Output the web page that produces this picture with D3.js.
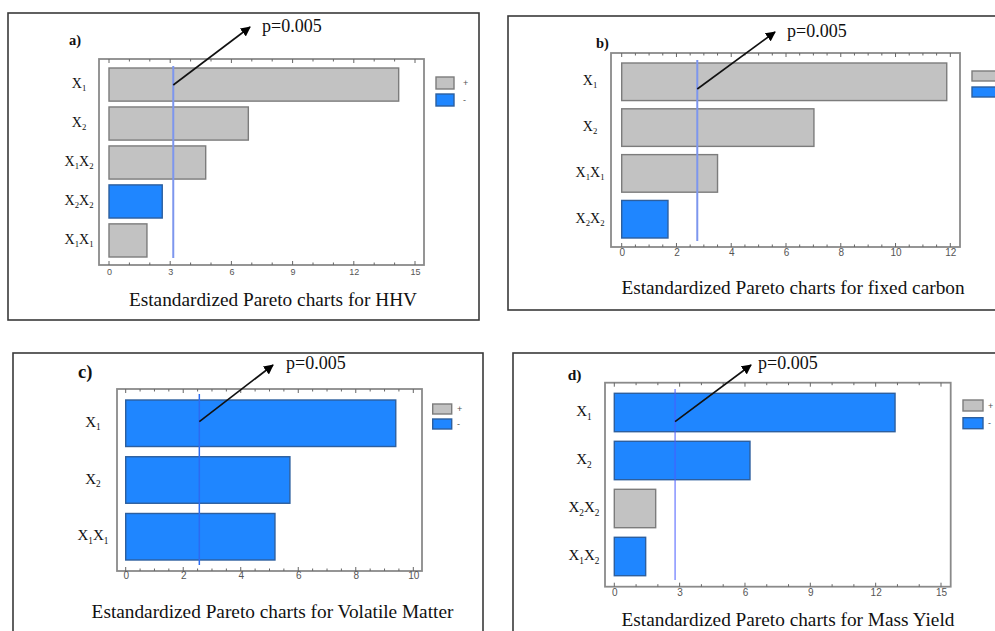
<!DOCTYPE html>
<html>
<head>
<meta charset="utf-8">
<script src="https://cdn.jsdelivr.net/npm/d3@7"></script>
<style>
  html, body { margin: 0; padding: 0; background: #fff; overflow: hidden; }
  svg { display: block; }
</style>
</head>
<body>
<svg id="chart" width="995" height="631"></svg>
<script>
// ---- Data: standardized effects per response (ordered as plotted, top to bottom) ----
const termsA   = ["X1", "X2", "X1X2", "X2X2", "X1X1"];
const effectsA = [14.2, 6.83, 4.74, 2.61, 1.86];
const signsA   = ["+", "+", "+", "-", "+"];
const critA    = 3.15;
const ticksA   = [0, 3, 6, 9, 12, 15];

const termsB   = ["X1", "X2", "X1X1", "X2X2"];
const effectsB = [11.87, 7.02, 3.50, 1.69];
const signsB   = ["+", "+", "+", "-"];
const critB    = 2.76;
const ticksB   = [0, 2, 4, 6, 8, 10, 12];

const termsC   = ["X1", "X2", "X1X1"];
const effectsC = [9.39, 5.71, 5.19];
const signsC   = ["-", "-", "-"];
const critC    = 2.56;
const ticksC   = [0, 2, 4, 6, 8, 10];

const termsD   = ["X1", "X2", "X2X2", "X1X2"];
const effectsD = [12.89, 6.23, 1.90, 1.44];
const signsD   = ["-", "-", "+", "-"];
const critD    = 2.79;
const ticksD   = [0, 3, 6, 9, 12, 15];

const panelTags   = ["a)", "b)", "c)", "d)"];
const panelTitles = [
  "Estandardized Pareto charts for HHV",
  "Estandardized Pareto charts for fixed carbon",
  "Estandardized Pareto charts for Volatile Matter",
  "Estandardized Pareto charts for Mass Yield"
];
const pLabel = "p=0.005";
const legendSigns = ["+", "-"];

// ---- Styling ----
const GRAY = "#c2c2c2", GRAY_EDGE = "#7c7c7c";
const BLUE = "#1f86ff", BLUE_EDGE = "#2d5f9e";
const SERIF = "'Liberation Serif', 'Times New Roman', serif";
const SANS = "'Liberation Sans', Arial, sans-serif";

// ---- Layout for each panel ----
// legend: [x, yPlus, yMinus, w, h, signX or null when the signs fall outside the page]
const layouts = [
  { outer: [8, 13, 479, 320], plot: [99, 59, 424, 265], xr: [109, 415], minor: 1,
    band: [68, 257], pad: 0.15, pline: [66, 258], arrowFrom: 85, arrowTo: [250, 27],
    pText: [262, 32], tag: [69, 45, 14.5], legend: [436, 77, 94, 18, 12, 463],
    tickY: 281, tickSize: 9, title: [273, 306, 19.3], labelX: 79, labelSize: 14,
    plineColor: "#7d96ee", plineW: 2 },
  { outer: [508, 16, 1010, 310], plot: [611, 53, 960, 247], xr: [621.7, 950.3], minor: 0.5,
    band: [63, 238], pad: 0.18, pline: [60, 241], arrowFrom: 89, arrowTo: [775, 32],
    pText: [787, 37], tag: [596, 48, 14.5], legend: [972, 71, 87, 24, 10, null],
    tickY: 262, tickSize: 10, title: [793, 294, 19.3], labelX: 590, labelSize: 14,
    plineColor: "#7d96ee", plineW: 2 },
  { outer: [13, 353, 483, 660], plot: [117, 389, 422, 571], xr: [125.7, 413.3], minor: 0.5,
    band: [400, 560], pad: 0.18, pline: [394, 565], arrowFrom: 421.7, arrowTo: [273, 365],
    pText: [286, 369], tag: [78, 378, 18.5], legend: [432.7, 404, 419, 19, 10, 457],
    tickY: 585, tickSize: 10, title: [272.5, 618, 19.3], labelX: 93, labelSize: 15,
    plineColor: "#2b6cf2", plineW: 1.5 },
  { outer: [513, 353, 1010, 660], plot: [605, 382.7, 950.7, 586.7], xr: [614.3, 941], minor: 1,
    band: [393.3, 575.7], pad: 0.2, pline: [389, 580], arrowFrom: 421.7, arrowTo: [751, 365],
    pText: [758, 369], tag: [567.7, 380, 15.5], legend: [963, 400, 417.7, 20, 11, 988],
    tickY: 602, tickSize: 10, title: [788, 625.5, 19.3], labelX: 584, labelSize: 15,
    plineColor: "#4a5cff", plineW: 1 }
];

const panels = [
  { terms: termsA, effects: effectsA, signs: signsA, crit: critA, ticks: ticksA },
  { terms: termsB, effects: effectsB, signs: signsB, crit: critB, ticks: ticksB },
  { terms: termsC, effects: effectsC, signs: signsC, crit: critC, ticks: ticksC },
  { terms: termsD, effects: effectsD, signs: signsD, crit: critD, ticks: ticksD }
];

const svg = d3.select("#chart");

svg.append("defs").append("marker")
  .attr("id", "arrowhead")
  .attr("viewBox", "0 0 10 10")
  .attr("refX", 9).attr("refY", 5)
  .attr("markerWidth", 10).attr("markerHeight", 10)
  .attr("markerUnits", "userSpaceOnUse")
  .attr("orient", "auto")
  .append("path").attr("d", "M0,0 L10,5 L0,10 Z").attr("fill", "#000");

// Term label like X1X2 drawn with subscript digits
function writeTerm(textSel, term, size) {
  let shifted = false;
  for (const ch of term) {
    const isDigit = /\d/.test(ch);
    const t = textSel.append("tspan").text(ch);
    if (isDigit) {
      t.attr("font-size", size * 0.62);
      if (!shifted) { t.attr("dy", size * 0.22); shifted = true; }
    } else {
      t.attr("font-size", size);
      if (shifted) { t.attr("dy", -size * 0.22); shifted = false; }
    }
  }
}

panels.forEach((p, i) => {
  const L = layouts[i];
  const g = svg.append("g");

  // Outer frame of the panel
  g.append("rect")
    .attr("x", L.outer[0]).attr("y", L.outer[1])
    .attr("width", L.outer[2] - L.outer[0]).attr("height", L.outer[3] - L.outer[1])
    .attr("fill", "none").attr("stroke", "#3a3a3a").attr("stroke-width", 1.6);

  const xMax = p.ticks[p.ticks.length - 1];
  const x = d3.scaleLinear().domain([0, xMax]).range(L.xr);
  const y = d3.scaleBand().domain(p.terms).range(L.band)
    .paddingInner(L.pad).paddingOuter(0);

  const [px0, py0, px1, py1] = L.plot;

  // Plot box
  g.append("rect")
    .attr("x", px0).attr("y", py0).attr("width", px1 - px0).attr("height", py1 - py0)
    .attr("fill", "#fff").attr("stroke", "#8a8a8a").attr("stroke-width", 1.8);

  // Minor and major ticks on top and bottom edges, pointing inward
  const minorVals = d3.range(0, xMax + 1e-9, L.minor);
  minorVals.forEach(v => {
    const major = p.ticks.some(t => Math.abs(t - v) < 1e-9);
    const len = major ? 4 : 2.5;
    g.append("line").attr("x1", x(v)).attr("x2", x(v))
      .attr("y1", py1).attr("y2", py1 - len)
      .attr("stroke", "#666").attr("stroke-width", 1);
    g.append("line").attr("x1", x(v)).attr("x2", x(v))
      .attr("y1", py0).attr("y2", py0 + len)
      .attr("stroke", "#666").attr("stroke-width", 1);
  });

  // Tick labels via a bottom axis (domain/tick lines hidden)
  const axis = g.append("g")
    .attr("transform", `translate(0,${L.tickY - L.tickSize - 3})`)
    .call(d3.axisBottom(x).tickValues(p.ticks).tickSize(0).tickPadding(0).tickFormat(d3.format("d")));
  axis.select(".domain").remove();
  axis.selectAll("text")
    .attr("font-family", SANS).attr("font-size", L.tickSize)
    .attr("fill", "#555").attr("dy", "0.71em");

  // Bars
  g.selectAll("rect.bar")
    .data(p.terms.map((t, k) => ({ term: t, value: p.effects[k], sign: p.signs[k] })))
    .join("rect")
    .attr("class", "bar")
    .attr("x", x(0)).attr("y", d => y(d.term))
    .attr("width", d => x(d.value) - x(0)).attr("height", y.bandwidth())
    .attr("fill", d => d.sign === "+" ? GRAY : BLUE)
    .attr("stroke", d => d.sign === "+" ? GRAY_EDGE : BLUE_EDGE)
    .attr("stroke-width", 1.4);

  // Term labels
  p.terms.forEach(t => {
    const txt = g.append("text")
      .attr("x", L.labelX).attr("y", y(t) + y.bandwidth() / 2 + L.labelSize * 0.25)
      .attr("text-anchor", "middle")
      .attr("font-family", SERIF).attr("fill", "#111");
    writeTerm(txt, t, L.labelSize);
  });

  // Significance line
  g.append("line")
    .attr("x1", x(p.crit)).attr("x2", x(p.crit))
    .attr("y1", L.pline[0]).attr("y2", L.pline[1])
    .attr("stroke", L.plineColor).attr("stroke-width", L.plineW);

  // Arrow pointing to the p-value note
  g.append("line")
    .attr("x1", x(p.crit)).attr("y1", L.arrowFrom)
    .attr("x2", L.arrowTo[0]).attr("y2", L.arrowTo[1])
    .attr("stroke", "#111").attr("stroke-width", 1.6)
    .attr("marker-end", "url(#arrowhead)");

  g.append("text")
    .attr("x", L.pText[0]).attr("y", L.pText[1])
    .attr("font-family", SERIF).attr("font-size", 18).attr("fill", "#111")
    .text(pLabel);

  // Panel tag
  g.append("text")
    .attr("x", L.tag[0]).attr("y", L.tag[1])
    .attr("font-family", SERIF).attr("font-weight", "bold")
    .attr("font-size", L.tag[2]).attr("fill", "#111")
    .text(panelTags[i]);

  // Legend
  const [lx, ly1, ly2, lw, lh, sx] = L.legend;
  [[ly1, GRAY, GRAY_EDGE], [ly2, BLUE, BLUE_EDGE]].forEach(([ly, fill, edge], k) => {
    g.append("rect").attr("x", lx).attr("y", ly).attr("width", lw).attr("height", lh)
      .attr("fill", fill).attr("stroke", edge).attr("stroke-width", 1.4);
    if (sx !== null) {
      g.append("text").attr("x", sx).attr("y", ly + lh / 2 + 3)
        .attr("font-family", SANS).attr("font-size", 9).attr("fill", "#555")
        .text(legendSigns[k]);
    }
  });

  // Chart title
  g.append("text")
    .attr("x", L.title[0]).attr("y", L.title[1])
    .attr("text-anchor", "middle")
    .attr("font-family", SERIF).attr("font-size", L.title[2]).attr("fill", "#111")
    .text(panelTitles[i]);
});
</script>
</body>
</html>
